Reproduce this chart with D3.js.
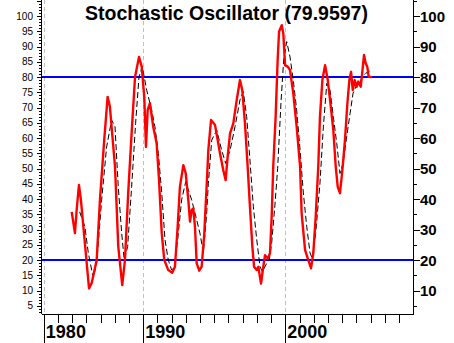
<!DOCTYPE html>
<html><head><meta charset="utf-8">
<script src="https://cdn.jsdelivr.net/npm/d3@7"></script>
<style>html,body{margin:0;padding:0;background:#fff;}svg{display:block;}</style>
</head><body>
<svg id="c" width="454" height="343"></svg>
<script>
const title = "Stochastic Oscillator (79.9597)";
// %K (red) — decimal year / value
const kYears = [1984.96,1985.19,1985.31,1985.47,1985.61,1986.18,1986.37,1986.72,1986.95,1987.25,1987.49,1987.65,1987.77,1988.01,1988.24,1988.52,1988.71,1988.94,1989.18,1989.42,1989.70,1989.89,1990.07,1990.19,1990.31,1990.47,1990.70,1990.94,1991.11,1991.30,1991.48,1991.76,1992.04,1992.23,1992.42,1992.58,1992.82,1992.99,1993.17,1993.29,1993.41,1993.52,1993.64,1993.76,1993.94,1994.11,1994.30,1994.35,1994.46,1994.58,1994.77,1995.05,1995.24,1995.40,1995.63,1995.80,1995.94,1996.11,1996.34,1996.58,1996.81,1996.97,1997.16,1997.35,1997.51,1997.68,1997.80,1997.99,1998.10,1998.29,1998.45,1998.57,1998.76,1998.92,1999.04,1999.15,1999.32,1999.46,1999.56,1999.75,1999.86,1999.98,2000.17,2000.33,2000.56,2000.80,2001.04,2001.15,2001.39,2001.62,2001.81,2001.97,2002.14,2002.32,2002.44,2002.61,2002.80,2002.99,2003.15,2003.38,2003.55,2003.69,2003.85,2003.97,2004.04,2004.20,2004.37,2004.51,2004.63,2004.75,2004.89,2005.03,2005.14,2005.31,2005.40,2005.54,2005.66,2005.77,2005.87,2006.11];
const kValues = [35.8,28.8,36.4,44.6,39.7,10.7,12.5,20,39.7,59.3,73.5,70.3,63.7,50.6,24.4,11.8,20,42,61.6,80,86.6,83.4,73.5,57.1,69.2,71.4,63.7,58.3,46.2,28.8,20,16.7,15.8,17.8,30.9,44,51.1,48.4,39.7,32.6,36.4,37,30.9,18.9,16.5,17.8,28.8,34,44,56,65.9,64.3,59.3,55,49.5,46.2,53.9,61.5,64.8,72.5,79,75.7,64.8,50.6,37.5,24.4,17.8,16.7,17.8,12.3,17.8,21.6,20.5,22.2,34.2,50.6,67,85.6,94.9,97,94.3,83.9,83.4,82.3,74.7,63.7,50.6,35.3,23.3,20,17.3,22.2,34.2,50.6,67,79,83.9,79,72.5,62.6,50.6,44,41.9,47.3,50.6,59.3,71.4,79,81.7,75.7,79,76.8,78.5,76.8,80.7,87.2,84.5,83.4,80.1,79.96];
// %D (black dashed)
const dYears = [1985.52,1985.89,1986.13,1986.48,1986.72,1987.07,1987.42,1987.77,1988.01,1988.24,1988.48,1988.66,1988.90,1989.18,1989.46,1989.70,1989.93,1990.24,1990.59,1990.82,1991.06,1991.30,1991.53,1991.76,1992.00,1992.18,1992.42,1992.70,1992.99,1993.17,1993.41,1993.64,1993.99,1994.23,1994.46,1994.58,1994.82,1995.17,1995.52,1995.80,1996.11,1996.46,1996.81,1997.04,1997.28,1997.51,1997.75,1997.99,1998.22,1998.38,1998.69,1998.87,1999.04,1999.27,1999.46,1999.70,1999.89,2000.10,2000.33,2000.56,2000.80,2001.04,2001.27,2001.51,2001.74,2001.90,2002.14,2002.44,2002.68,2002.92,2003.15,2003.38,2003.62,2003.85,2004.08,2004.32,2004.56,2004.77,2005.03,2005.24,2005.41,2005.65,2006.08];
const dValues = [35.8,30.9,22.3,14.1,19,39.7,57.1,65.9,63.7,44,28.8,20,24.4,44,64.8,80.1,83.4,75.7,69.2,63.7,55,42,26.6,20,16.7,17.8,26.6,39.7,45.7,43,39.7,35.4,28.8,22.3,35,45,59.3,62.6,56,51.7,56,63.7,72.5,75.2,67,52.8,37.5,26.6,17.8,16.2,18.9,20,25.6,38,50,72,86,91.6,86.6,79,69.2,56,42,30.9,22.3,20.6,28.8,45.2,63.7,77.9,75.7,67,58.3,48.4,52,60.4,68.1,74.7,77.4,77.9,80.1,81.2,82.3];
const refLevels = [20, 80];
const leftTicks = d3.range(5, 101, 5);
const rightTicks = d3.range(10, 101, 10);
const xLabelYears = [1983, 1990, 2000];
const xLabels = ["1980", "1990", "2000"];
const xMinorYears = d3.range(1984, 2009, 1);

const svg = d3.select("#c");
const L = 42, R = 413, T = 0, B = 314;
const x = d3.scaleLinear().domain([1982.87, 2008.99]).range([L, R]);
const y = d3.scaleLinear().domain([2.3, 105.25]).range([B, T]);

// vertical grid (dashed grey)
svg.append("g").selectAll("line").data(xLabelYears).join("line")
  .attr("x1", d => Math.round(x(d)) + 0.5).attr("x2", d => Math.round(x(d)) + 0.5)
  .attr("y1", T).attr("y2", B)
  .attr("stroke", "#c0c0c0").attr("stroke-width", 1).attr("stroke-dasharray", "4,3");

// reference lines
svg.append("g").selectAll("line").data(refLevels).join("line")
  .attr("x1", L).attr("x2", R)
  .attr("y1", d => y(d)).attr("y2", d => y(d))
  .attr("stroke", "#0000ff").attr("stroke-width", 2);

// %D dashed
const lineD = d3.line().x((d, i) => x(dYears[i])).y(d => y(d));
svg.append("path").attr("d", lineD(dValues))
  .attr("fill", "none").attr("stroke", "#000").attr("stroke-width", 1)
  .attr("stroke-dasharray", "6,3");

// %K red
const lineK = d3.line().x((d, i) => x(kYears[i])).y(d => y(d));
svg.append("path").attr("d", lineK(kValues))
  .attr("fill", "none").attr("stroke", "#ff0000").attr("stroke-width", 2.4)
  .attr("stroke-linejoin", "round");

// left axis
const ax = svg.append("g").attr("shape-rendering", "crispEdges");
ax.append("line").attr("x1", L - 0.5).attr("x2", L - 0.5).attr("y1", T).attr("y2", B).attr("stroke", "#000");
ax.selectAll(".lm").data(d3.range(3, 106, 1)).join("line")
  .attr("x1", d => d % 5 === 0 ? L - 5 : L - 3).attr("x2", L)
  .attr("y1", d => Math.round(y(d)) + 0.5).attr("y2", d => Math.round(y(d)) + 0.5)
  .attr("stroke", "#000");
ax.selectAll("text").data(leftTicks).join("text")
  .attr("x", L - 9).attr("y", d => y(d) + 3.5)
  .attr("text-anchor", "end").attr("font-family", "Liberation Sans, Arial, sans-serif")
  .attr("font-size", 10).text(d => d);

// right axis
const ar = svg.append("g").attr("shape-rendering", "crispEdges");
ar.append("line").attr("x1", R + 0.5).attr("x2", R + 0.5).attr("y1", T).attr("y2", B).attr("stroke", "#000");
ar.selectAll("line.t").data(d3.range(5, 106, 5)).join("line")
  .attr("x1", R).attr("x2", d => d % 10 === 0 ? R + 7 : R + 4)
  .attr("y1", d => Math.round(y(d)) + 0.5).attr("y2", d => Math.round(y(d)) + 0.5)
  .attr("stroke", "#000");
ar.selectAll("text").data(rightTicks).join("text")
  .attr("x", R + 7).attr("y", d => y(d) + 5.5)
  .attr("font-family", "Liberation Sans, Arial, sans-serif").attr("font-weight", "bold")
  .attr("font-size", 15).text(d => d);

// bottom axis
const ab = svg.append("g").attr("shape-rendering", "crispEdges");
ab.append("line").attr("x1", L - 0.5).attr("x2", R + 1).attr("y1", B + 0.5).attr("y2", B + 0.5).attr("stroke", "#000");
ab.selectAll("line.m").data(xMinorYears.filter(d => !xLabelYears.includes(d))).join("line")
  .attr("x1", d => Math.round(x(d)) + 0.5).attr("x2", d => Math.round(x(d)) + 0.5)
  .attr("y1", B).attr("y2", B + 9).attr("stroke", "#000");
ab.selectAll("line.M").data(xLabelYears).join("line")
  .attr("x1", d => Math.round(x(d)) + 0.5).attr("x2", d => Math.round(x(d)) + 0.5)
  .attr("y1", B).attr("y2", 343).attr("stroke", "#000");
ab.selectAll("text").data(xLabelYears).join("text")
  .attr("x", d => x(d) + 2).attr("y", 338)
  .attr("font-family", "Liberation Sans, Arial, sans-serif").attr("font-weight", "bold")
  .attr("font-size", 18).text((d, i) => xLabels[i]);

// title
svg.append("text").attr("x", 226.5).attr("y", 20).attr("text-anchor", "middle")
  .attr("font-family", "Liberation Sans, Arial, sans-serif").attr("font-weight", "bold")
  .attr("font-size", 19.5).text(title);
</script>
</body></html>
